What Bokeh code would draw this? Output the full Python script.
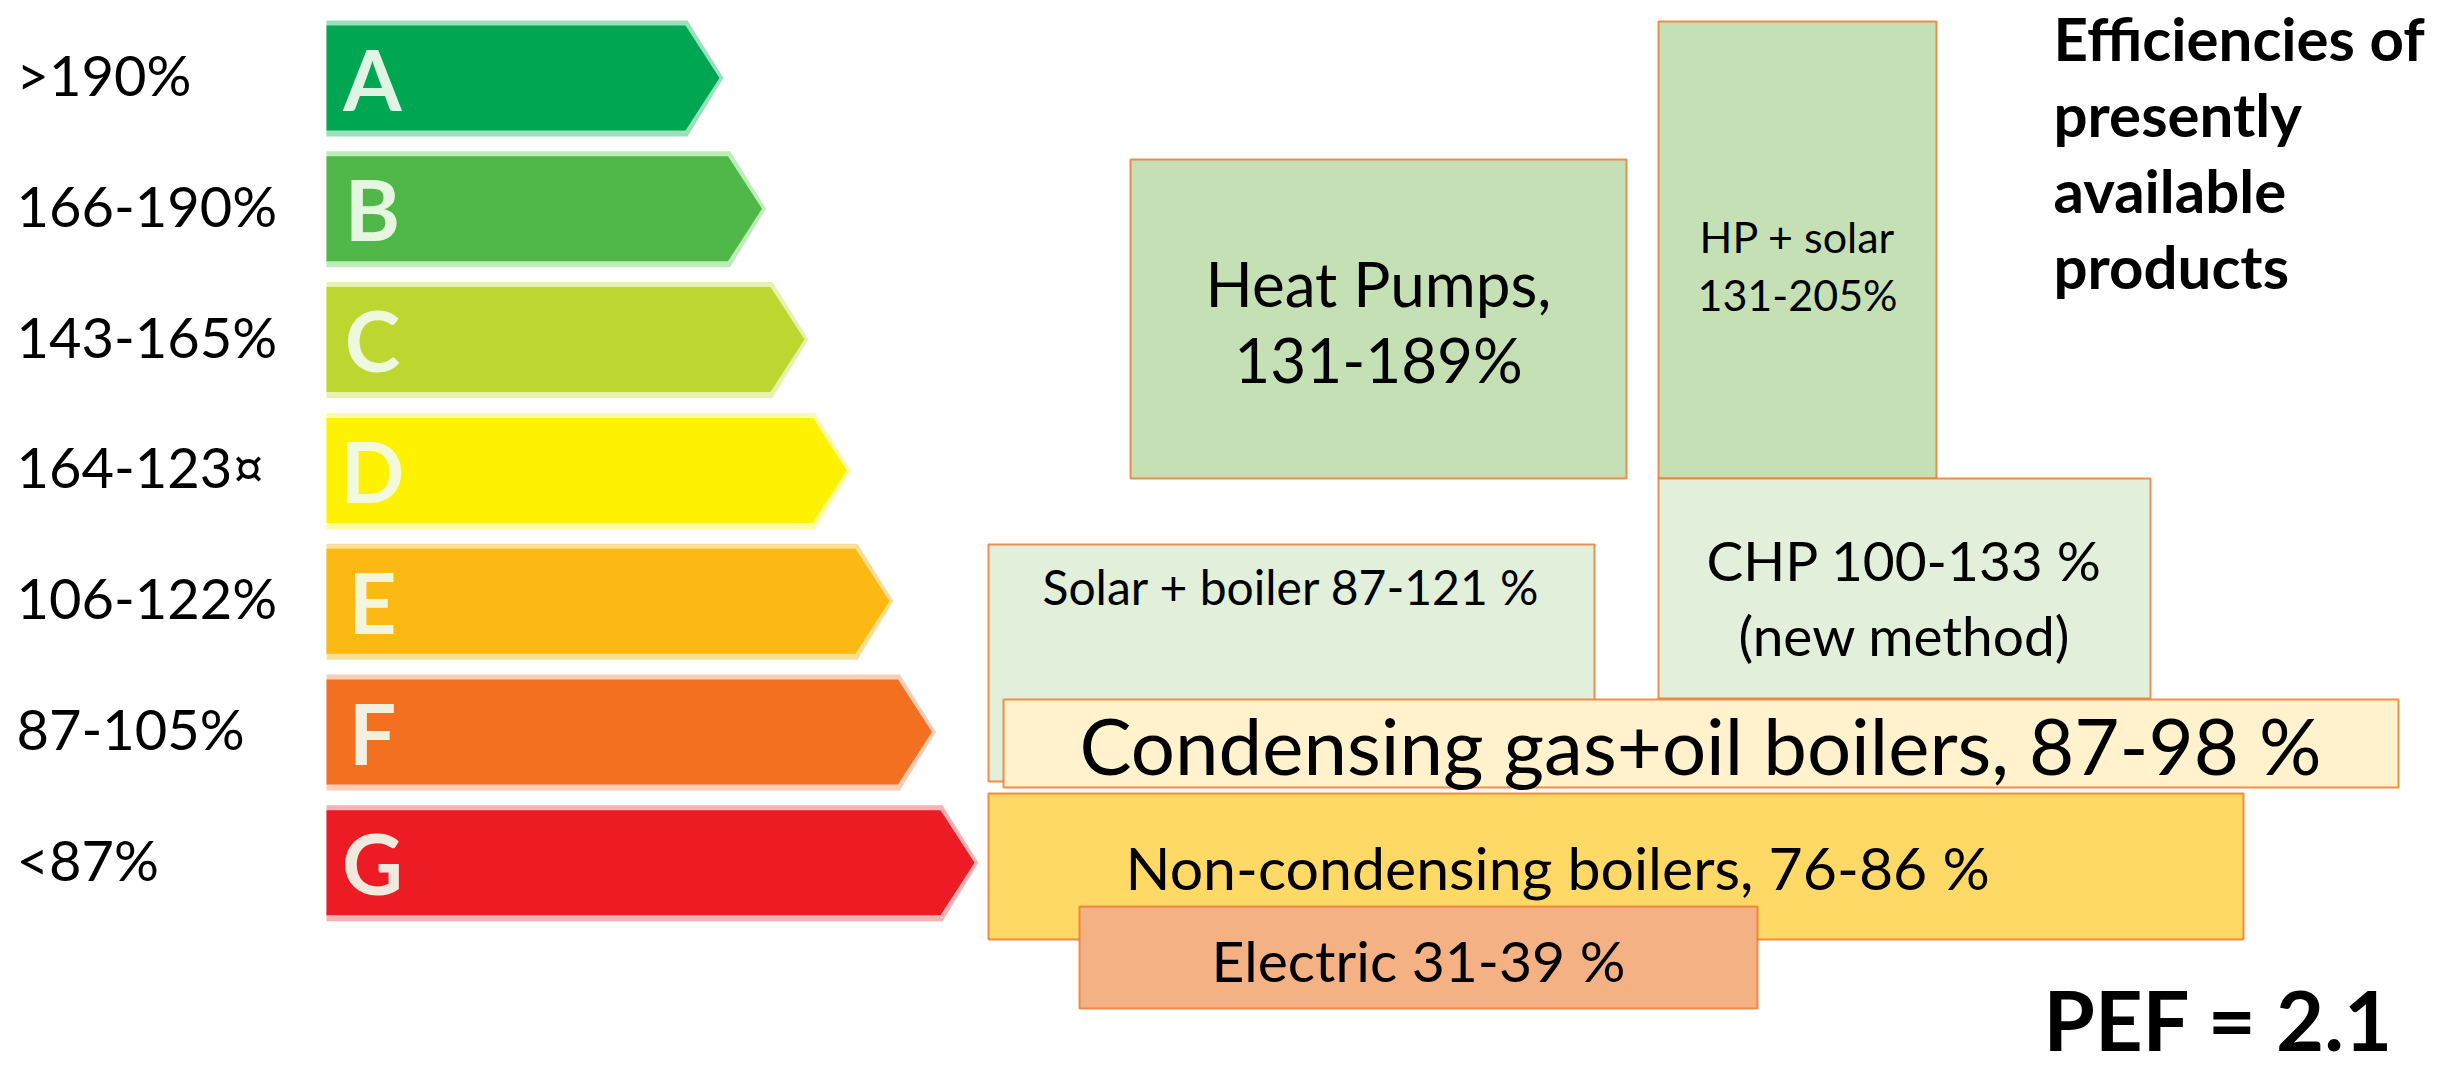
from bokeh.plotting import figure
from bokeh.models import Range1d
from bokeh.embed import file_html
from bokeh.resources import INLINE
from bokeh.core.properties import value

# ---------------- data ----------------
classes = ["A", "B", "C", "D", "E", "F", "G"]
class_ranges = [">190%", "166-190%", "143-165%", "164-123¤", "106-122%", "87-105%", "<87%"]
products = ["Heat Pumps", "HP + solar", "CHP", "Solar + boiler",
            "Non-condensing boilers", "Electric", "Condensing gas+oil boilers"]
product_labels = [
    ["Heat Pumps,", "131-189%"],
    ["HP + solar", "131-205%"],
    ["CHP 100-133 %", "(new method)"],
    ["Solar + boiler 87-121 %"],
    ["Non-condensing  boilers, 76-86 %"],
    ["Electric 31-39 %"],
    ["Condensing gas+oil boilers, 87-98 %"],
]
title_lines = ["Efficiencies of", "presently", "available", "products"]
pef_label = "PEF = 2.1"

# ---------------- styles / layout ----------------
class_colors = ["#00A651", "#50B848", "#BED730", "#FFF200", "#FDB913", "#F37021", "#ED1C24"]
class_light = ["#8EDDB5", "#B5EBAF", "#E6F0A6", "#FFF99A", "#F8DC8A", "#F9C8AE", "#F6A8AC"]

ROW_TOP0, ROW_PITCH, ROW_H = 25, 130.8, 105
ARROW_LEFT, BODY0, BODY_STEP, TIP = 326, 685, 42.5, 34

# box geometry: left, top, right, bottom (page pixels)
box_geom = {
    "Heat Pumps": (1130, 159, 1626, 478),
    "HP + solar": (1658, 21, 1936, 478),
    "CHP": (1658, 478, 2150, 698),
    "Solar + boiler": (988, 544, 1594, 781),
    "Non-condensing boilers": (988, 793, 2243, 939),
    "Electric": (1079, 906, 1757, 1008),
    "Condensing gas+oil boilers": (1003, 699, 2398, 787),
}
box_fill = {
    "Heat Pumps": "#C5E0B4",
    "HP + solar": "#C5E0B4",
    "CHP": "#E2EFDA",
    "Solar + boiler": "#E2EFDA",
    "Non-condensing boilers": "#FFD966",
    "Electric": "#F4B183",
    "Condensing gas+oil boilers": "#FFF2CC",
}
# text: (x, first line centre y, line pitch, font size, align)
box_text = {
    "Heat Pumps": (1378, 282, 76, "62px", "center"),
    "HP + solar": (1797, 236, 58, "43px", "center"),
    "CHP": (1904, 559, 75, "55px", "center"),
    "Solar + boiler": (1291, 586, 60, "48px", "center"),
    "Non-condensing boilers": (1125, 867, 60, "59px", "left"),
    "Electric": (1418, 959, 60, "57px", "center"),
    "Condensing gas+oil boilers": (1700, 744, 80, "78px", "center"),
}
draw_order = ["Heat Pumps", "HP + solar", "CHP", "Solar + boiler",
              "Condensing gas+oil boilers", "Non-condensing boilers", "Electric"]

FONT = value("Lato")

W, H = 2443, 1072
p = figure(width=W, height=H, output_backend="svg", toolbar_location=None,
           x_range=Range1d(0, W), y_range=Range1d(H, 0),
           min_border=0, outline_line_color=None, background_fill_color="white",
           border_fill_color="white")
p.axis.visible = False
p.grid.visible = False

# ---------------- energy class arrows ----------------
xs_light, ys_light, xs_main, ys_main = [], [], [], []
for i, c in enumerate(classes):
    top = ROW_TOP0 + i * ROW_PITCH
    bot = top + ROW_H
    mid = (top + bot) / 2
    body = BODY0 + i * BODY_STEP
    xs_main.append([ARROW_LEFT, body, body + TIP, body, ARROW_LEFT])
    ys_main.append([top, top, mid, bot, bot])
    t2, b2 = top - 5, bot + 6
    xs_light.append([ARROW_LEFT, body + 2, body + TIP + 4, body + 2, ARROW_LEFT])
    ys_light.append([t2, t2, mid, b2, b2])

p.patches(xs=xs_light, ys=ys_light, fill_color=class_light, line_color=None, fill_alpha=0.9)
p.patches(xs=xs_main, ys=ys_main, fill_color=class_colors, line_color=None)

letter_y = [ROW_TOP0 + i * ROW_PITCH + ROW_H / 2 for i in range(len(classes))]
p.text(x=[372] * len(classes), y=letter_y, text=classes, text_font=FONT,
       text_font_style="bold", text_font_size="84px", text_color="#F2FBEF",
       text_alpha=0.92, text_align="center", text_baseline="middle")

label_y = [ROW_TOP0 + i * ROW_PITCH + 49 for i in range(len(classes))]
p.text(x=[16] * len(classes), y=label_y, text=class_ranges, text_font=FONT,
       text_font_size="56px", text_color="black", text_align="left",
       text_baseline="middle")

# ---------------- product boxes ----------------
for name in draw_order:
    l, t, r, b = box_geom[name]
    p.quad(left=[l], right=[r], top=[t], bottom=[b], fill_color=box_fill[name],
           line_color="#ED7D31", line_width=2, line_alpha=0.85)

for name in draw_order:
    x, y0, pitch, fs, al = box_text[name]
    lines = product_labels[products.index(name)]
    p.text(x=[x] * len(lines), y=[y0 + k * pitch for k in range(len(lines))], text=lines,
           text_font=FONT, text_font_size=fs, text_color="black", text_align=al,
           text_baseline="middle")

# ---------------- title & PEF ----------------
p.text(x=[2053] * len(title_lines), y=[37 + k * 76 for k in range(len(title_lines))],
       text=title_lines, text_font=FONT, text_font_style="bold", text_font_size="60px",
       text_color="black", text_align="left", text_baseline="middle")
p.text(x=[2043], y=[1018], text=[pef_label], text_font=FONT, text_font_style="bold",
       text_font_size="83px", text_color="black", text_align="left",
       text_baseline="middle")

open("out.html", "w").write(file_html(p, INLINE))
